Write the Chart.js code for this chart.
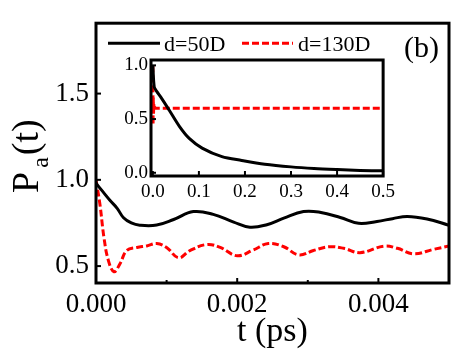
<!DOCTYPE html>
<html>
<head>
<meta charset="utf-8">
<script src="https://cdn.jsdelivr.net/npm/chart.js@4.4.1/dist/chart.umd.min.js"></script>
<style>
  html, body { margin: 0; padding: 0; background: #fff; }
  #wrap { position: relative; width: 472px; height: 354px; font-family: 'Liberation Serif'; }
  #mainChart { position: absolute; left: 0; top: 0; }
  #insetChart { position: absolute; left: 100px; top: 45px; }
  #probe { position: absolute; left: -999px; font-family: 'Liberation Serif'; }
</style>
</head>
<body>
<div id="wrap">
  <canvas id="mainChart" width="472" height="354"></canvas>
  <canvas id="insetChart" width="300" height="170"></canvas>
  <span id="probe">d=50D 0.5</span>
</div>
<script>
/* ---- data ---- */
const SERIES_LABELS = ['d=50D', 'd=130D'];

// main panel, t in ps
const t50 = [0, 0.0001, 0.0002, 0.0003, 0.00039, 0.0005, 0.00062, 0.00086, 0.0011, 0.00138, 0.00166,
    0.00195, 0.00218, 0.00242, 0.00266, 0.00294, 0.00317, 0.00346, 0.00372, 0.00398, 0.0042,
    0.00441, 0.00469, 0.005];
const p50 = [0.98, 0.93, 0.88, 0.835, 0.78, 0.75, 0.737, 0.738, 0.77, 0.816, 0.80,
    0.755, 0.725, 0.74, 0.778, 0.816, 0.812, 0.782, 0.748, 0.759, 0.775,
    0.788, 0.773, 0.737];

const t130 = [0, 0.000057, 0.000113, 0.000175, 0.000255, 0.00034, 0.000435, 0.00058, 0.00072, 0.00086,
    0.001, 0.00117, 0.00133, 0.00157, 0.00176, 0.002, 0.00223, 0.00244, 0.00266, 0.00287,
    0.00308, 0.0033, 0.00351, 0.00374, 0.00408, 0.00427, 0.0045, 0.00478, 0.005];
const p130 = [1.0, 0.854, 0.665, 0.533, 0.467, 0.514, 0.59, 0.608, 0.617, 0.631,
    0.608, 0.548, 0.59, 0.625, 0.608, 0.56, 0.594, 0.631, 0.612, 0.565,
    0.59, 0.612, 0.603, 0.578, 0.616, 0.603, 0.571, 0.597, 0.616];

// inset panel
const tIn50 = [0, 0.003, 0.008, 0.018, 0.036, 0.058, 0.079, 0.107, 0.15, 0.193, 0.243, 0.3, 0.35, 0.4, 0.45, 0.5];
const pIn50 = [1.0, 0.8, 0.76, 0.7, 0.58, 0.43, 0.32, 0.23, 0.15, 0.115, 0.08, 0.055, 0.04, 0.03, 0.022, 0.018];
const tIn130 = [0, 0.0005, 0.001, 0.0015, 0.002, 0.003, 0.004, 0.006, 0.5];
const pIn130 = [1.0, 0.45, 0.7, 0.55, 0.64, 0.58, 0.61, 0.6, 0.6];

// tick labels
const xTickLabels = ['0.000', '0.002', '0.004'];
const yTickLabels = ['0.5', '1.0', '1.5'];
const xInsetTickLabels = ['0.0', '0.1', '0.2', '0.3', '0.4', '0.5'];
const yInsetTickLabels = ['0.0', '0.5', '1.0'];

const SERIF = "'Liberation Serif', 'Times New Roman', Times, Tinos, 'Noto Serif', 'DejaVu Serif', serif";
const RED = '#ff0000';

function pts(xs, ys) {
    return xs.map((x, i) => ({ x: x, y: ys[i] }));
}

/* ---- frame + inward ticks ---- */
function framePlugin(opts) {
    return {
        id: 'frame',
        beforeDraw(chart) {
            if (!opts.fill) return;
            const a = chart.chartArea, ctx = chart.ctx;
            ctx.save();
            ctx.fillStyle = '#fff';
            ctx.fillRect(a.left, a.top, a.right - a.left, a.bottom - a.top);
            ctx.restore();
        },
        afterDatasetsDraw(chart) {
            const a = chart.chartArea, ctx = chart.ctx;
            ctx.save();
            ctx.strokeStyle = '#000';
            ctx.lineWidth = 2;
            chart.scales.x.ticks.forEach(t => {
                const px = chart.scales.x.getPixelForValue(t.value);
                const major = t.label !== '';
                ctx.beginPath();
                ctx.moveTo(px, a.bottom);
                ctx.lineTo(px, a.bottom - (major ? 5 : 3));
                ctx.stroke();
            });
            chart.scales.y.ticks.forEach(t => {
                const py = chart.scales.y.getPixelForValue(t.value);
                ctx.beginPath();
                ctx.moveTo(a.left, py);
                ctx.lineTo(a.left + 5, py);
                ctx.stroke();
            });
            ctx.lineWidth = 3;
            ctx.strokeRect(a.left, a.top, a.right - a.left, a.bottom - a.top);
            ctx.restore();
        }
    };
}

/* ---- y title with subscript, legend, panel tag ---- */
const decorPlugin = {
    id: 'decor',
    afterDraw(chart) {
        const ctx = chart.ctx, a = chart.chartArea;
        ctx.save();
        ctx.fillStyle = '#000';
        ctx.textBaseline = 'alphabetic';
        ctx.textAlign = 'left';

        // P_a(t), rotated
        ctx.save();
        ctx.translate(38, 193);
        ctx.rotate(-Math.PI / 2);
        ctx.font = '38px ' + SERIF;
        ctx.fillText('P', 0, 0);
        const wP = ctx.measureText('P').width;
        ctx.font = '24px ' + SERIF;
        ctx.fillText('a', wP + 4, 10);
        const wa = ctx.measureText('a').width;
        ctx.font = '38px ' + SERIF;
        ctx.fillText('(t)', wP + wa + 6, 0);
        ctx.restore();

        // legend
        const ly = a.top + 20;
        const items = [{ x0: 108, x1: 160, tx: 164 }, { x0: 242, x1: 293, tx: 298 }];
        chart.data.datasets.forEach((ds, i) => {
            const it = items[i];
            ctx.save();
            ctx.strokeStyle = ds.borderColor;
            ctx.lineWidth = ds.borderWidth;
            ctx.setLineDash(ds.borderDash || []);
            ctx.beginPath();
            ctx.moveTo(it.x0, ly);
            ctx.lineTo(it.x1, ly);
            ctx.stroke();
            ctx.restore();
            ctx.font = '22px ' + SERIF;
            ctx.fillText(ds.label, it.tx, ly + 8);
        });

        ctx.font = '30px ' + SERIF;
        ctx.fillText('(b)', 404, a.top + 34);
        ctx.restore();
    }
};

function tickCallback(labels, digits) {
    return function(value) {
        const s = Number(value).toFixed(digits);
        return labels.includes(s) ? s : '';
    };
}

function initMainChart() {
    const ctx = document.getElementById('mainChart');
    new Chart(ctx, {
        type: 'line',
        data: {
            datasets: [
                {
                    label: SERIES_LABELS[0],
                    data: pts(t50, p50),
                    borderColor: '#000',
                    borderWidth: 3,
                    pointRadius: 0,
                    tension: 0.4,
                    fill: false,
                },
                {
                    label: SERIES_LABELS[1],
                    data: pts(t130, p130),
                    borderColor: RED,
                    borderWidth: 3,
                    borderDash: [7, 3],
                    pointRadius: 0,
                    tension: 0.4,
                    fill: false,
                },
            ]
        },
        options: {
            responsive: false,
            animation: false,
            layout: { padding: { top: 17, right: 23, left: 0, bottom: 0 } },
            plugins: { legend: { display: false }, tooltip: { enabled: false } },
            scales: {
                x: {
                    type: 'linear',
                    min: 0,
                    max: 0.005,
                    afterFit: s => { s.height = 71; },
                    grid: { display: false, drawTicks: false },
                    border: { display: false },
                    ticks: {
                        stepSize: 0.001,
                        includeBounds: false,
                        autoSkip: false,
                        maxRotation: 0,
                        padding: 6,
                        color: '#000',
                        font: { family: SERIF, size: 27 },
                        callback: tickCallback(xTickLabels, 3),
                    },
                    title: {
                        display: true,
                        text: 't (ps)',
                        color: '#000',
                        font: { family: SERIF, size: 34 },
                        padding: { top: 0, bottom: 2 },
                    },
                },
                y: {
                    min: 0.402,
                    max: 1.908,
                    afterFit: s => { s.width = 96; },
                    grid: { display: false, drawTicks: false },
                    border: { display: false },
                    ticks: {
                        stepSize: 0.5,
                        includeBounds: false,
                        padding: 7,
                        color: '#000',
                        font: { family: SERIF, size: 27 },
                        callback: tickCallback(yTickLabels, 1),
                    },
                },
            }
        },
        plugins: [framePlugin({ fill: false }), decorPlugin]
    });
}

function initInsetChart() {
    const ctx = document.getElementById('insetChart');
    new Chart(ctx, {
        type: 'line',
        data: {
            datasets: [
                {
                    label: SERIES_LABELS[0],
                    data: pts(tIn50, pIn50),
                    borderColor: '#000',
                    borderWidth: 3,
                    pointRadius: 0,
                    tension: 0.3,
                },
                {
                    label: SERIES_LABELS[1],
                    data: pts(tIn130, pIn130),
                    borderColor: RED,
                    borderWidth: 3,
                    borderDash: [7, 3],
                    pointRadius: 0,
                    tension: 0,
                },
            ]
        },
        options: {
            responsive: false,
            animation: false,
            layout: { padding: { top: 15, right: 13, left: 0, bottom: 0 } },
            plugins: { legend: { display: false }, tooltip: { enabled: false } },
            scales: {
                x: {
                    type: 'linear',
                    min: -0.004,
                    max: 0.5,
                    afterFit: s => { s.height = 39; },
                    grid: { display: false, drawTicks: false },
                    border: { display: false },
                    ticks: {
                        stepSize: 0.1,
                        includeBounds: false,
                        autoSkip: false,
                        maxRotation: 0,
                        padding: 5,
                        color: '#000',
                        font: { family: SERIF, size: 19 },
                        callback: tickCallback(xInsetTickLabels, 1),
                    },
                },
                y: {
                    min: -0.03,
                    max: 1.05,
                    afterFit: s => { s.width = 51; },
                    grid: { display: false, drawTicks: false },
                    border: { display: false },
                    ticks: {
                        stepSize: 0.5,
                        includeBounds: false,
                        padding: 3,
                        color: '#000',
                        font: { family: SERIF, size: 19 },
                        callback: tickCallback(yInsetTickLabels, 1),
                    },
                },
            }
        },
        plugins: [framePlugin({ fill: true })]
    });
}

function start() {
    initMainChart();
    initInsetChart();
}

if (document.fonts && document.fonts.load) {
    Promise.all([
        document.fonts.load("20px 'Liberation Serif'"),
        document.fonts.load("20px 'DejaVu Serif'"),
    ]).then(start, start);
} else {
    start();
}
</script>
</body>
</html>
